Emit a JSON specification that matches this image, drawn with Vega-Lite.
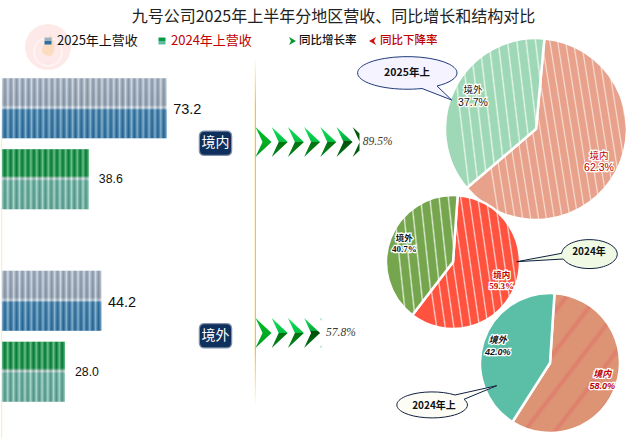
{"$schema":"https://vega.github.io/schema/vega-lite/v6.json","width":640,"height":438,"padding":0,"background":"#ffffff","autosize":{"type":"fit","contains":"padding"},"config":{"view":{"stroke":null},"font":"Noto Sans CJK SC"},
"datasets":{
"logo":[{"part":"logo"}],
"lines":[{"line":"axis"}],
"revenue":[{"region":"境内","period":"2025年上","series":"境内2025","revenue":73.2},{"region":"境内","period":"2024年上","series":"境内2024","revenue":38.6},{"region":"境外","period":"2025年上","series":"境外2025","revenue":44.2},{"region":"境外","period":"2024年上","series":"境外2024","revenue":28.0}],
"growth":[{"region":"境内","rate":0.895},{"region":"境外","rate":0.578}],
"chevrons":[{"region":"境内","n":1},{"region":"境内","n":2},{"region":"境内","n":3},{"region":"境内","n":4},{"region":"境内","n":5},{"region":"境内","n":6},{"region":"境内","n":7},{"region":"境外","n":1},{"region":"境外","n":2},{"region":"境外","n":3},{"region":"境外","n":4},{"region":"境外","n":5}],
"shares":[{"pie":"2025年上","region":"境内","share":0.623},{"pie":"2025年上","region":"境外","share":0.377},{"pie":"2024年","region":"境内","share":0.593},{"pie":"2024年","region":"境外","share":0.407},{"pie":"2024年上","region":"境内","share":0.58},{"pie":"2024年上","region":"境外","share":0.42}],
"pies":[{"pie":"2025年上"},{"pie":"2024年"},{"pie":"2024年上"}],
"legend":[{"item":"2025年上营收"},{"item":"2024年上营收"},{"item":"同比增长率"},{"item":"同比下降率"}],
"heading":[{"title":"九号公司2025年上半年分地区营收、同比增长和结构对比"}]
},
"resolve":{"scale":{"x":"independent","y":"independent","yOffset":"independent","theta":"independent","color":"independent","fill":"independent","shape":"independent"}},
"layer":[
{"data":{"name":"logo"},"encoding":{"x":{"field":"part","type":"nominal","axis":null,"scale":{"type":"point","domain":["logo"],"range":[48,48]}},"y":{"field":"part","type":"nominal","axis":null,"scale":{"type":"point","domain":["logo"],"range":[47,47]}}},"layer":[
{"mark":{"type":"point","shape":"circle","size":2124,"filled":true,"fill":"#fdeae8","strokeWidth":0,"opacity":1}},
{"mark":{"type":"point","shape":"M-14,5 A14,14 0 1 0 14,5 A14,14 0 1 0 -14,5 Z","size":4,"filled":false,"stroke":"#ffffff","strokeWidth":1,"opacity":1}},
{"mark":{"type":"point","shape":"M3,-12 Q10,2 3,9 Q-7,9 -6,2 Q-3,-6 3,-12 Z","size":4,"filled":true,"fill":"#fbdcc0","strokeWidth":0,"opacity":1}}
]},
{"data":{"name":"lines"},"mark":{"type":"rect","fill":{"gradient":"linear","x1":0,"y1":0,"x2":0,"y2":1,"stops":[{"offset":0,"color":"#ffffff"},{"offset":0.13,"color":"#ffffff"},{"offset":0.24,"color":"#ffc21a"},{"offset":0.8,"color":"#ffc21a"},{"offset":0.93,"color":"#ffffff"},{"offset":1,"color":"#ffffff"}]}},"encoding":{"x":{"field":"line","type":"nominal","axis":null,"scale":{"type":"band","domain":["axis"],"range":[254.8,256],"paddingInner":0,"paddingOuter":0}}}},
{"data":{"name":"lines"},"mark":{"type":"rect","fill":{"gradient":"linear","x1":0,"y1":0,"x2":0,"y2":1,"stops":[{"offset":0,"color":"#ffffff"},{"offset":0.16,"color":"#ffffff"},{"offset":0.3,"color":"#ffeeb0"},{"offset":1,"color":"#ffeeb0"}]}},"encoding":{"x":{"field":"line","type":"nominal","axis":null,"scale":{"type":"band","domain":["axis"],"range":[1,2.2],"paddingInner":0,"paddingOuter":0}}}},
{"data":{"name":"revenue"},"encoding":{"y":{"field":"region","type":"nominal","axis":null,"scale":{"type":"band","domain":["境内","境外"],"range":[78.3,401.7],"paddingInner":0.3195,"paddingOuter":0}},"yOffset":{"field":"period","type":"nominal","scale":{"domain":["2025年上","2024年上"],"paddingInner":0.154,"paddingOuter":0}},"x":{"field":"revenue","type":"quantitative","axis":null,"stack":null,"scale":{"domain":[0,100],"range":[2,227]}}},"layer":[
{"transform":[{"filter":"datum.period==='2025年上'"}],"mark":{"type":"bar","fill":{"gradient":"linear","x1":0,"y1":0,"x2":0,"y2":1,"stops":[{"offset":0,"color":"#b9c4cf"},{"offset":0.44,"color":"#aab5c0"},{"offset":0.49,"color":"#e6edf1"},{"offset":0.53,"color":"#3f86b3"},{"offset":1,"color":"#2e79aa"}]}}},
{"transform":[{"filter":"datum.period==='2024年上'"}],"mark":{"type":"bar","fill":{"gradient":"linear","x1":0,"y1":0,"x2":0,"y2":1,"stops":[{"offset":0,"color":"#0a9a35"},{"offset":0.44,"color":"#0a9a35"},{"offset":0.49,"color":"#dce8e0"},{"offset":0.53,"color":"#72c2a6"},{"offset":1,"color":"#6dbb9f"}]}}},
{"transform":[{"filter":"datum.series==='境内2025'"}],"mark":{"type":"bar","fill":{"gradient":"linear","x1":0,"y1":0,"x2":1,"y2":0,"stops":[{"offset":0,"color":"#ffffff66"},{"offset":0.018,"color":"#00204a40"},{"offset":0.036,"color":"#ffffff66"},{"offset":0.054,"color":"#00204a40"},{"offset":0.071,"color":"#ffffff66"},{"offset":0.089,"color":"#00204a40"},{"offset":0.107,"color":"#ffffff66"},{"offset":0.125,"color":"#00204a40"},{"offset":0.143,"color":"#ffffff66"},{"offset":0.161,"color":"#00204a40"},{"offset":0.179,"color":"#ffffff66"},{"offset":0.196,"color":"#00204a40"},{"offset":0.214,"color":"#ffffff66"},{"offset":0.232,"color":"#00204a40"},{"offset":0.25,"color":"#ffffff66"},{"offset":0.268,"color":"#00204a40"},{"offset":0.286,"color":"#ffffff66"},{"offset":0.304,"color":"#00204a40"},{"offset":0.321,"color":"#ffffff66"},{"offset":0.339,"color":"#00204a40"},{"offset":0.357,"color":"#ffffff66"},{"offset":0.375,"color":"#00204a40"},{"offset":0.393,"color":"#ffffff66"},{"offset":0.411,"color":"#00204a40"},{"offset":0.429,"color":"#ffffff66"},{"offset":0.446,"color":"#00204a40"},{"offset":0.464,"color":"#ffffff66"},{"offset":0.482,"color":"#00204a40"},{"offset":0.5,"color":"#ffffff66"},{"offset":0.518,"color":"#00204a40"},{"offset":0.536,"color":"#ffffff66"},{"offset":0.554,"color":"#00204a40"},{"offset":0.571,"color":"#ffffff66"},{"offset":0.589,"color":"#00204a40"},{"offset":0.607,"color":"#ffffff66"},{"offset":0.625,"color":"#00204a40"},{"offset":0.643,"color":"#ffffff66"},{"offset":0.661,"color":"#00204a40"},{"offset":0.679,"color":"#ffffff66"},{"offset":0.696,"color":"#00204a40"},{"offset":0.714,"color":"#ffffff66"},{"offset":0.732,"color":"#00204a40"},{"offset":0.75,"color":"#ffffff66"},{"offset":0.768,"color":"#00204a40"},{"offset":0.786,"color":"#ffffff66"},{"offset":0.804,"color":"#00204a40"},{"offset":0.821,"color":"#ffffff66"},{"offset":0.839,"color":"#00204a40"},{"offset":0.857,"color":"#ffffff66"},{"offset":0.875,"color":"#00204a40"},{"offset":0.893,"color":"#ffffff66"},{"offset":0.911,"color":"#00204a40"},{"offset":0.929,"color":"#ffffff66"},{"offset":0.946,"color":"#00204a40"},{"offset":0.964,"color":"#ffffff66"},{"offset":0.982,"color":"#00204a40"},{"offset":1,"color":"#ffffff66"}]}}},
{"transform":[{"filter":"datum.series==='境内2024'"}],"mark":{"type":"bar","fill":{"gradient":"linear","x1":0,"y1":0,"x2":1,"y2":0,"stops":[{"offset":0,"color":"#ffffff66"},{"offset":0.033,"color":"#00204a40"},{"offset":0.067,"color":"#ffffff66"},{"offset":0.1,"color":"#00204a40"},{"offset":0.133,"color":"#ffffff66"},{"offset":0.167,"color":"#00204a40"},{"offset":0.2,"color":"#ffffff66"},{"offset":0.233,"color":"#00204a40"},{"offset":0.267,"color":"#ffffff66"},{"offset":0.3,"color":"#00204a40"},{"offset":0.333,"color":"#ffffff66"},{"offset":0.367,"color":"#00204a40"},{"offset":0.4,"color":"#ffffff66"},{"offset":0.433,"color":"#00204a40"},{"offset":0.467,"color":"#ffffff66"},{"offset":0.5,"color":"#00204a40"},{"offset":0.533,"color":"#ffffff66"},{"offset":0.567,"color":"#00204a40"},{"offset":0.6,"color":"#ffffff66"},{"offset":0.633,"color":"#00204a40"},{"offset":0.667,"color":"#ffffff66"},{"offset":0.7,"color":"#00204a40"},{"offset":0.733,"color":"#ffffff66"},{"offset":0.767,"color":"#00204a40"},{"offset":0.8,"color":"#ffffff66"},{"offset":0.833,"color":"#00204a40"},{"offset":0.867,"color":"#ffffff66"},{"offset":0.9,"color":"#00204a40"},{"offset":0.933,"color":"#ffffff66"},{"offset":0.967,"color":"#00204a40"},{"offset":1,"color":"#ffffff66"}]}}},
{"transform":[{"filter":"datum.series==='境外2025'"}],"mark":{"type":"bar","fill":{"gradient":"linear","x1":0,"y1":0,"x2":1,"y2":0,"stops":[{"offset":0,"color":"#ffffff66"},{"offset":0.029,"color":"#00204a40"},{"offset":0.059,"color":"#ffffff66"},{"offset":0.088,"color":"#00204a40"},{"offset":0.118,"color":"#ffffff66"},{"offset":0.147,"color":"#00204a40"},{"offset":0.176,"color":"#ffffff66"},{"offset":0.206,"color":"#00204a40"},{"offset":0.235,"color":"#ffffff66"},{"offset":0.265,"color":"#00204a40"},{"offset":0.294,"color":"#ffffff66"},{"offset":0.324,"color":"#00204a40"},{"offset":0.353,"color":"#ffffff66"},{"offset":0.382,"color":"#00204a40"},{"offset":0.412,"color":"#ffffff66"},{"offset":0.441,"color":"#00204a40"},{"offset":0.471,"color":"#ffffff66"},{"offset":0.5,"color":"#00204a40"},{"offset":0.529,"color":"#ffffff66"},{"offset":0.559,"color":"#00204a40"},{"offset":0.588,"color":"#ffffff66"},{"offset":0.618,"color":"#00204a40"},{"offset":0.647,"color":"#ffffff66"},{"offset":0.676,"color":"#00204a40"},{"offset":0.706,"color":"#ffffff66"},{"offset":0.735,"color":"#00204a40"},{"offset":0.765,"color":"#ffffff66"},{"offset":0.794,"color":"#00204a40"},{"offset":0.824,"color":"#ffffff66"},{"offset":0.853,"color":"#00204a40"},{"offset":0.882,"color":"#ffffff66"},{"offset":0.912,"color":"#00204a40"},{"offset":0.941,"color":"#ffffff66"},{"offset":0.971,"color":"#00204a40"},{"offset":1,"color":"#ffffff66"}]}}},
{"transform":[{"filter":"datum.series==='境外2024'"}],"mark":{"type":"bar","fill":{"gradient":"linear","x1":0,"y1":0,"x2":1,"y2":0,"stops":[{"offset":0,"color":"#ffffff66"},{"offset":0.045,"color":"#00204a40"},{"offset":0.091,"color":"#ffffff66"},{"offset":0.136,"color":"#00204a40"},{"offset":0.182,"color":"#ffffff66"},{"offset":0.227,"color":"#00204a40"},{"offset":0.273,"color":"#ffffff66"},{"offset":0.318,"color":"#00204a40"},{"offset":0.364,"color":"#ffffff66"},{"offset":0.409,"color":"#00204a40"},{"offset":0.455,"color":"#ffffff66"},{"offset":0.5,"color":"#00204a40"},{"offset":0.545,"color":"#ffffff66"},{"offset":0.591,"color":"#00204a40"},{"offset":0.636,"color":"#ffffff66"},{"offset":0.682,"color":"#00204a40"},{"offset":0.727,"color":"#ffffff66"},{"offset":0.773,"color":"#00204a40"},{"offset":0.818,"color":"#ffffff66"},{"offset":0.864,"color":"#00204a40"},{"offset":0.909,"color":"#ffffff66"},{"offset":0.955,"color":"#00204a40"},{"offset":1,"color":"#ffffff66"}]}}},
{"transform":[{"filter":"datum.period==='2025年上'"}],"mark":{"type":"text","align":"left","baseline":"middle","dx":6.5,"dy":2,"font":"Liberation Sans","fontSize":14.5,"fill":"#111111"},"encoding":{"text":{"field":"revenue","type":"quantitative","format":".1f"}}},
{"transform":[{"filter":"datum.period==='2024年上'"}],"mark":{"type":"text","align":"left","baseline":"middle","dx":10,"dy":0,"font":"Liberation Sans","fontSize":12.3,"fill":"#111111"},"encoding":{"text":{"field":"revenue","type":"quantitative","format":".1f"}}}
]},
{"data":{"name":"chevrons"},"encoding":{"x":{"field":"n","type":"quantitative","axis":null,"scale":{"domain":[1,7],"range":[263.5,360.7]}},"y":{"field":"region","type":"nominal","axis":null,"scale":{"type":"point","domain":["境内","境外"],"range":[142,333],"padding":0}}},"layer":[
{"transform":[{"filter":"datum.n===1"}],"mark":{"type":"point","shape":"M-8,-15 L8,0 L-8,15 L-1,0 Z","size":4,"filled":true,"strokeWidth":0,"opacity":1,"fill":{"gradient":"linear","x1":0,"y1":0,"x2":0,"y2":1,"stops":[{"offset":0,"color":"#00c02a"},{"offset":1,"color":"#009a1c"}]}}},
{"transform":[{"filter":"(datum.region==='境内'&&datum.n>1&&datum.n<6)||(datum.region==='境外'&&datum.n>1&&datum.n<4)"}],"mark":{"type":"point","shape":"M-8,-15 L8,0 L-8,15 L-1,0 Z","size":4,"filled":true,"strokeWidth":0,"opacity":1,"fill":{"gradient":"linear","x1":0,"y1":0,"x2":0,"y2":1,"stops":[{"offset":0,"color":"#18e060"},{"offset":0.5,"color":"#00c040"},{"offset":0.5,"color":"#04700f"},{"offset":1,"color":"#00861c"}]}}},
{"transform":[{"filter":"(datum.region==='境内'&&datum.n===6)||(datum.region==='境外'&&datum.n===4)"}],"mark":{"type":"point","shape":"M-8,-15 L8,0 L-8,15 L-1,0 Z","size":4,"filled":true,"strokeWidth":0,"opacity":1,"fill":{"gradient":"linear","x1":0,"y1":0,"x2":0,"y2":1,"stops":[{"offset":0,"color":"#18e060"},{"offset":0.45,"color":"#00a838"},{"offset":0.45,"color":"#004d08"},{"offset":1,"color":"#00761a"}]}}},
{"transform":[{"filter":"datum.region==='境内'&&datum.n===7"}],"mark":{"type":"point","shape":"M-8,-15 L-1.2,-8.6 L-1.2,8.6 L-8,15 L-1,0 Z","size":4,"filled":true,"strokeWidth":0,"opacity":1,"fill":"#005a0c"}},
{"transform":[{"filter":"datum.region==='境外'&&datum.n===5"}],"mark":{"type":"point","shape":"M-8,-15 L-7,-14 L-7,-12 Z M-8,15 L-7,14 L-7,12 Z","size":4,"filled":true,"strokeWidth":0,"opacity":1,"fill":"#00a838"}}
]},
{"data":{"name":"growth"},"mark":{"type":"text","align":"left","baseline":"middle","dx":3,"font":"Liberation Sans Narrow","fontStyle":"italic","fontSize":11.5,"fill":"#3a3a2a"},"encoding":{"x":{"field":"rate","type":"quantitative","axis":null,"scale":{"domain":[0,1],"range":[256,372]}},"y":{"field":"region","type":"nominal","axis":null,"scale":{"type":"point","domain":["境内","境外"],"range":[142,333],"padding":0}},"text":{"field":"rate","type":"quantitative","format":".1%"}}},
{"data":{"name":"growth"},"encoding":{"x":{"field":"region","type":"nominal","axis":null,"scale":{"type":"point","domain":["境内","境外"],"range":[215.5,215.5],"padding":0}},"y":{"field":"region","type":"nominal","axis":null,"scale":{"type":"point","domain":["境内","境外"],"range":[143.3,335.7],"padding":0}}},"layer":[
{"mark":{"type":"point","shape":"M-11,-11.5 H11 Q15.5,-11.5 15.5,-7 V7 Q15.5,11.5 11,11.5 H-11 Q-15.5,11.5 -15.5,7 V-7 Q-15.5,-11.5 -11,-11.5 Z","size":4,"filled":true,"fill":"#0f2f5c","stroke":"#0f2f5c88","strokeWidth":2.5,"opacity":1}},
{"mark":{"type":"text","align":"center","baseline":"middle","fontSize":14,"fill":"#ffffff"},"encoding":{"text":{"field":"region","type":"nominal"}}}
]},
{"encoding":{"x":{"field":"pie","type":"nominal","axis":null,"scale":{"type":"point","domain":["2025年上"],"range":[536,536]}},"y":{"field":"pie","type":"nominal","axis":null,"scale":{"type":"point","domain":["2025年上"],"range":[129,129]}}},"layer":[
{"data":{"name":"shares"},"transform":[{"filter":"datum.pie==='2025年上'"},{"stack":"share","groupby":["pie"],"sort":[{"field":"share","order":"descending"}],"as":["s0","s1"]}],"layer":[
{"transform":[{"filter":"datum.region==='境内'"}],"encoding":{"theta":{"field":"s0","type":"quantitative","scale":{"domain":[0,1],"range":[0.0925,6.3757]}},"theta2":{"field":"s1"}},"mark":{"type":"arc","outerRadius":91,"stroke":"#ffffff","strokeWidth":2.5,"fill":{"gradient":"linear","x1":0,"y1":0.1,"x2":1,"y2":-0.08,"stops":[{"offset":0,"color":"#e8a28c"},{"offset":0.033,"color":"#e8a28c"},{"offset":0.04,"color":"#f9dcd3"},{"offset":0.048,"color":"#e8a28c"},{"offset":0.081,"color":"#e8a28c"},{"offset":0.088,"color":"#f9dcd3"},{"offset":0.095,"color":"#e8a28c"},{"offset":0.129,"color":"#e8a28c"},{"offset":0.136,"color":"#f9dcd3"},{"offset":0.143,"color":"#e8a28c"},{"offset":0.176,"color":"#e8a28c"},{"offset":0.183,"color":"#f9dcd3"},{"offset":0.19,"color":"#e8a28c"},{"offset":0.224,"color":"#e8a28c"},{"offset":0.231,"color":"#f9dcd3"},{"offset":0.238,"color":"#e8a28c"},{"offset":0.271,"color":"#e8a28c"},{"offset":0.279,"color":"#f9dcd3"},{"offset":0.286,"color":"#e8a28c"},{"offset":0.319,"color":"#e8a28c"},{"offset":0.326,"color":"#f9dcd3"},{"offset":0.333,"color":"#e8a28c"},{"offset":0.367,"color":"#e8a28c"},{"offset":0.374,"color":"#f9dcd3"},{"offset":0.381,"color":"#e8a28c"},{"offset":0.414,"color":"#e8a28c"},{"offset":0.421,"color":"#f9dcd3"},{"offset":0.429,"color":"#e8a28c"},{"offset":0.462,"color":"#e8a28c"},{"offset":0.469,"color":"#f9dcd3"},{"offset":0.476,"color":"#e8a28c"},{"offset":0.51,"color":"#e8a28c"},{"offset":0.517,"color":"#f9dcd3"},{"offset":0.524,"color":"#e8a28c"},{"offset":0.557,"color":"#e8a28c"},{"offset":0.564,"color":"#f9dcd3"},{"offset":0.571,"color":"#e8a28c"},{"offset":0.605,"color":"#e8a28c"},{"offset":0.612,"color":"#f9dcd3"},{"offset":0.619,"color":"#e8a28c"},{"offset":0.652,"color":"#e8a28c"},{"offset":0.659,"color":"#f9dcd3"},{"offset":0.667,"color":"#e8a28c"},{"offset":0.7,"color":"#e8a28c"},{"offset":0.707,"color":"#f9dcd3"},{"offset":0.714,"color":"#e8a28c"},{"offset":0.748,"color":"#e8a28c"},{"offset":0.755,"color":"#f9dcd3"},{"offset":0.762,"color":"#e8a28c"},{"offset":0.795,"color":"#e8a28c"},{"offset":0.802,"color":"#f9dcd3"},{"offset":0.81,"color":"#e8a28c"},{"offset":0.843,"color":"#e8a28c"},{"offset":0.85,"color":"#f9dcd3"},{"offset":0.857,"color":"#e8a28c"},{"offset":0.89,"color":"#e8a28c"},{"offset":0.898,"color":"#f9dcd3"},{"offset":0.905,"color":"#e8a28c"},{"offset":0.938,"color":"#e8a28c"},{"offset":0.945,"color":"#f9dcd3"},{"offset":0.952,"color":"#e8a28c"},{"offset":0.986,"color":"#e8a28c"},{"offset":0.993,"color":"#f9dcd3"},{"offset":1,"color":"#e8a28c"}]}}},
{"transform":[{"filter":"datum.region==='境外'"}],"encoding":{"theta":{"field":"s0","type":"quantitative","scale":{"domain":[0,1],"range":[0.0925,6.3757]}},"theta2":{"field":"s1"}},"mark":{"type":"arc","outerRadius":91,"stroke":"#ffffff","strokeWidth":2.5,"fill":{"gradient":"linear","x1":0,"y1":0.1,"x2":1,"y2":-0.08,"stops":[{"offset":0,"color":"#9fd8b6"},{"offset":0.064,"color":"#9fd8b6"},{"offset":0.077,"color":"#e2f5e9"},{"offset":0.091,"color":"#9fd8b6"},{"offset":0.155,"color":"#9fd8b6"},{"offset":0.168,"color":"#e2f5e9"},{"offset":0.182,"color":"#9fd8b6"},{"offset":0.245,"color":"#9fd8b6"},{"offset":0.259,"color":"#e2f5e9"},{"offset":0.273,"color":"#9fd8b6"},{"offset":0.336,"color":"#9fd8b6"},{"offset":0.35,"color":"#e2f5e9"},{"offset":0.364,"color":"#9fd8b6"},{"offset":0.427,"color":"#9fd8b6"},{"offset":0.441,"color":"#e2f5e9"},{"offset":0.455,"color":"#9fd8b6"},{"offset":0.518,"color":"#9fd8b6"},{"offset":0.532,"color":"#e2f5e9"},{"offset":0.545,"color":"#9fd8b6"},{"offset":0.609,"color":"#9fd8b6"},{"offset":0.623,"color":"#e2f5e9"},{"offset":0.636,"color":"#9fd8b6"},{"offset":0.7,"color":"#9fd8b6"},{"offset":0.714,"color":"#e2f5e9"},{"offset":0.727,"color":"#9fd8b6"},{"offset":0.791,"color":"#9fd8b6"},{"offset":0.805,"color":"#e2f5e9"},{"offset":0.818,"color":"#9fd8b6"},{"offset":0.882,"color":"#9fd8b6"},{"offset":0.896,"color":"#e2f5e9"},{"offset":0.909,"color":"#9fd8b6"},{"offset":0.973,"color":"#9fd8b6"},{"offset":0.986,"color":"#e2f5e9"},{"offset":1,"color":"#9fd8b6"}]}}},
{"encoding":{"theta":{"field":"share","type":"quantitative","stack":true,"scale":{"domain":[0,1],"range":[0.0925,6.3757]}},"order":{"field":"share","sort":"descending"}},"layer":[
{"mark":{"type":"text","radius":71,"dy":-6,"fontSize":9.5,"fill":"#ffffff","stroke":"#ffffff","strokeWidth":2.5,"align":"center","baseline":"middle"},"encoding":{"text":{"field":"region","type":"nominal"}}},
{"mark":{"type":"text","radius":71,"dy":6.5,"fontSize":10.5,"fill":"#ffffff","stroke":"#ffffff","strokeWidth":2.5,"align":"center","baseline":"middle","font":"Liberation Sans"},"encoding":{"text":{"field":"share","type":"quantitative","format":".1%"}}},
{"mark":{"type":"text","radius":71,"dy":-6,"fontSize":9.5,"align":"center","baseline":"middle"},"encoding":{"text":{"field":"region","type":"nominal"},"fill":{"field":"region","type":"nominal","legend":null,"scale":{"domain":["境内","境外"],"range":["#c00000","#111111"]}}}},
{"mark":{"type":"text","radius":71,"dy":6.5,"fontSize":10.5,"align":"center","baseline":"middle","font":"Liberation Sans"},"encoding":{"text":{"field":"share","type":"quantitative","format":".1%"},"fill":{"field":"region","type":"nominal","legend":null,"scale":{"domain":["境内","境外"],"range":["#c00000","#111111"]}}}}
]}
]},
{"data":{"name":"pies"},"transform":[{"filter":"datum.pie==='2025年上'"}],"layer":[
{"mark":{"type":"point","shape":"M-99,-43 A49.7,16.3 0 1 0 -114,-40.5 L-84.3,-29 Z","size":4,"filled":true,"fill":"#f5f3ff","stroke":"#1f3a7a","strokeWidth":1,"opacity":1}},
{"mark":{"type":"text","dx":-129,"dy":-56,"fontSize":10.5,"fontWeight":"bold","fill":"#111111","align":"center","baseline":"middle"},"encoding":{"text":{"field":"pie","type":"nominal"}}}
]}
]},
{"encoding":{"x":{"field":"pie","type":"nominal","axis":null,"scale":{"type":"point","domain":["2024年"],"range":[453,453]}},"y":{"field":"pie","type":"nominal","axis":null,"scale":{"type":"point","domain":["2024年"],"range":[262,262]}}},"layer":[
{"data":{"name":"shares"},"transform":[{"filter":"datum.pie==='2024年'"},{"stack":"share","groupby":["pie"],"sort":[{"field":"share","order":"descending"}],"as":["s0","s1"]}],"layer":[
{"transform":[{"filter":"datum.region==='境内'"}],"encoding":{"theta":{"field":"s0","type":"quantitative","scale":{"domain":[0,1],"range":[0.0698,6.353]}},"theta2":{"field":"s1"}},"mark":{"type":"arc","outerRadius":67,"stroke":"#ffffff","strokeWidth":2.5,"fill":{"gradient":"linear","x1":0,"y1":0.1,"x2":1,"y2":-0.08,"stops":[{"offset":0,"color":"#ff5340"},{"offset":0.054,"color":"#ff5340"},{"offset":0.065,"color":"#ffd0c8"},{"offset":0.077,"color":"#ff5340"},{"offset":0.131,"color":"#ff5340"},{"offset":0.142,"color":"#ffd0c8"},{"offset":0.154,"color":"#ff5340"},{"offset":0.208,"color":"#ff5340"},{"offset":0.219,"color":"#ffd0c8"},{"offset":0.231,"color":"#ff5340"},{"offset":0.285,"color":"#ff5340"},{"offset":0.296,"color":"#ffd0c8"},{"offset":0.308,"color":"#ff5340"},{"offset":0.362,"color":"#ff5340"},{"offset":0.373,"color":"#ffd0c8"},{"offset":0.385,"color":"#ff5340"},{"offset":0.439,"color":"#ff5340"},{"offset":0.45,"color":"#ffd0c8"},{"offset":0.462,"color":"#ff5340"},{"offset":0.516,"color":"#ff5340"},{"offset":0.527,"color":"#ffd0c8"},{"offset":0.538,"color":"#ff5340"},{"offset":0.592,"color":"#ff5340"},{"offset":0.603,"color":"#ffd0c8"},{"offset":0.615,"color":"#ff5340"},{"offset":0.669,"color":"#ff5340"},{"offset":0.68,"color":"#ffd0c8"},{"offset":0.692,"color":"#ff5340"},{"offset":0.746,"color":"#ff5340"},{"offset":0.757,"color":"#ffd0c8"},{"offset":0.769,"color":"#ff5340"},{"offset":0.823,"color":"#ff5340"},{"offset":0.834,"color":"#ffd0c8"},{"offset":0.846,"color":"#ff5340"},{"offset":0.9,"color":"#ff5340"},{"offset":0.911,"color":"#ffd0c8"},{"offset":0.923,"color":"#ff5340"},{"offset":0.977,"color":"#ff5340"},{"offset":0.988,"color":"#ffd0c8"},{"offset":1,"color":"#ff5340"}]}}},
{"transform":[{"filter":"datum.region==='境外'"}],"encoding":{"theta":{"field":"s0","type":"quantitative","scale":{"domain":[0,1],"range":[0.0698,6.353]}},"theta2":{"field":"s1"}},"mark":{"type":"arc","outerRadius":67,"stroke":"#ffffff","strokeWidth":2.5,"fill":{"gradient":"linear","x1":0,"y1":0.1,"x2":1,"y2":-0.08,"stops":[{"offset":0,"color":"#75a64e"},{"offset":0.088,"color":"#75a64e"},{"offset":0.106,"color":"#dfe9d4"},{"offset":0.125,"color":"#75a64e"},{"offset":0.213,"color":"#75a64e"},{"offset":0.231,"color":"#dfe9d4"},{"offset":0.25,"color":"#75a64e"},{"offset":0.338,"color":"#75a64e"},{"offset":0.356,"color":"#dfe9d4"},{"offset":0.375,"color":"#75a64e"},{"offset":0.463,"color":"#75a64e"},{"offset":0.481,"color":"#dfe9d4"},{"offset":0.5,"color":"#75a64e"},{"offset":0.588,"color":"#75a64e"},{"offset":0.606,"color":"#dfe9d4"},{"offset":0.625,"color":"#75a64e"},{"offset":0.713,"color":"#75a64e"},{"offset":0.731,"color":"#dfe9d4"},{"offset":0.75,"color":"#75a64e"},{"offset":0.838,"color":"#75a64e"},{"offset":0.856,"color":"#dfe9d4"},{"offset":0.875,"color":"#75a64e"},{"offset":0.963,"color":"#75a64e"},{"offset":0.981,"color":"#dfe9d4"},{"offset":1,"color":"#75a64e"}]}}},
{"encoding":{"theta":{"field":"share","type":"quantitative","stack":true,"scale":{"domain":[0,1],"range":[0.0698,6.353]}},"order":{"field":"share","sort":"descending"}},"layer":[
{"mark":{"type":"text","radius":52,"dy":-5.5,"fontSize":8.5,"fontWeight":"bold","fill":"#ffffff","stroke":"#ffffff","strokeWidth":2.5,"align":"center","baseline":"middle"},"encoding":{"text":{"field":"region","type":"nominal"}}},
{"mark":{"type":"text","radius":52,"dy":5.5,"fontSize":9,"fill":"#ffffff","stroke":"#ffffff","strokeWidth":2.5,"align":"center","baseline":"middle","font":"Liberation Sans Narrow","fontWeight":"bold"},"encoding":{"text":{"field":"share","type":"quantitative","format":".1%"}}},
{"mark":{"type":"text","radius":52,"dy":-5.5,"fontSize":8.5,"fontWeight":"bold","align":"center","baseline":"middle"},"encoding":{"text":{"field":"region","type":"nominal"},"fill":{"field":"region","type":"nominal","legend":null,"scale":{"domain":["境内","境外"],"range":["#c00000","#111111"]}}}},
{"mark":{"type":"text","radius":52,"dy":5.5,"fontSize":9,"align":"center","baseline":"middle","font":"Liberation Sans Narrow","fontWeight":"bold"},"encoding":{"text":{"field":"share","type":"quantitative","format":".1%"},"fill":{"field":"region","type":"nominal","legend":null,"scale":{"domain":["境内","境外"],"range":["#c00000","#111111"]}}}}
]}
]},
{"data":{"name":"pies"},"transform":[{"filter":"datum.pie==='2024年'"}],"layer":[
{"mark":{"type":"point","shape":"M108.7,-8.7 A27.8,14.5 0 1 1 110.3,-3 L63.7,-0.3 Z","size":4,"filled":true,"fill":"#eff9e4","stroke":"#102040","strokeWidth":1,"opacity":1}},
{"mark":{"type":"text","dx":136,"dy":-10,"fontSize":10,"fontWeight":"bold","fill":"#111111","align":"center","baseline":"middle"},"encoding":{"text":{"field":"pie","type":"nominal"}}}
]}
]},
{"encoding":{"x":{"field":"pie","type":"nominal","axis":null,"scale":{"type":"point","domain":["2024年上"],"range":[550,550]}},"y":{"field":"pie","type":"nominal","axis":null,"scale":{"type":"point","domain":["2024年上"],"range":[363,363]}}},"layer":[
{"data":{"name":"shares"},"transform":[{"filter":"datum.pie==='2024年上'"},{"stack":"share","groupby":["pie"],"sort":[{"field":"share","order":"descending"}],"as":["s0","s1"]}],"layer":[
{"transform":[{"filter":"datum.region==='境内'"}],"encoding":{"theta":{"field":"s0","type":"quantitative","scale":{"domain":[0,1],"range":[0.0646,6.3478]}},"theta2":{"field":"s1"}},"mark":{"type":"arc","outerRadius":70,"stroke":"#ffffff","strokeWidth":2.5,"fill":{"gradient":"linear","x1":0,"y1":0,"x2":1,"y2":1,"stops":[{"offset":0,"color":"#dd9474"},{"offset":0.1,"color":"#dd9474"},{"offset":0.12,"color":"#df7d6c"},{"offset":0.143,"color":"#dd9474"},{"offset":0.243,"color":"#dd9474"},{"offset":0.263,"color":"#df7d6c"},{"offset":0.286,"color":"#dd9474"},{"offset":0.386,"color":"#dd9474"},{"offset":0.406,"color":"#df7d6c"},{"offset":0.429,"color":"#dd9474"},{"offset":0.529,"color":"#dd9474"},{"offset":0.549,"color":"#df7d6c"},{"offset":0.571,"color":"#dd9474"},{"offset":0.671,"color":"#dd9474"},{"offset":0.691,"color":"#df7d6c"},{"offset":0.714,"color":"#dd9474"},{"offset":0.814,"color":"#dd9474"},{"offset":0.834,"color":"#df7d6c"},{"offset":0.857,"color":"#dd9474"},{"offset":0.957,"color":"#dd9474"},{"offset":0.977,"color":"#df7d6c"},{"offset":1,"color":"#dd9474"}]}}},
{"transform":[{"filter":"datum.region==='境外'"}],"encoding":{"theta":{"field":"s0","type":"quantitative","scale":{"domain":[0,1],"range":[0.0646,6.3478]}},"theta2":{"field":"s1"}},"mark":{"type":"arc","outerRadius":70,"stroke":"#ffffff","strokeWidth":2.5,"fill":"#5bbfa7"}},
{"encoding":{"theta":{"field":"share","type":"quantitative","stack":true,"scale":{"domain":[0,1],"range":[0.0646,6.3478]}},"order":{"field":"share","sort":"descending"}},"layer":[
{"mark":{"type":"text","radius":55,"dy":-6,"fontSize":9,"fontWeight":"bold","fontStyle":"italic","fill":"#ffffff","stroke":"#ffffff","strokeWidth":2.5,"align":"center","baseline":"middle"},"encoding":{"text":{"field":"region","type":"nominal"}}},
{"mark":{"type":"text","radius":55,"dy":6,"fontSize":9,"fontWeight":"bold","fontStyle":"italic","fill":"#ffffff","stroke":"#ffffff","strokeWidth":2.5,"align":"center","baseline":"middle","font":"Liberation Sans"},"encoding":{"text":{"field":"share","type":"quantitative","format":".1%"}}},
{"mark":{"type":"text","radius":55,"dy":-6,"fontSize":9,"fontWeight":"bold","fontStyle":"italic","align":"center","baseline":"middle"},"encoding":{"text":{"field":"region","type":"nominal"},"fill":{"field":"region","type":"nominal","legend":null,"scale":{"domain":["境内","境外"],"range":["#c00000","#111111"]}}}},
{"mark":{"type":"text","radius":55,"dy":6,"fontSize":9,"fontWeight":"bold","fontStyle":"italic","align":"center","baseline":"middle","font":"Liberation Sans"},"encoding":{"text":{"field":"share","type":"quantitative","format":".1%"},"fill":{"field":"region","type":"nominal","legend":null,"scale":{"domain":["境内","境外"],"range":["#c00000","#111111"]}}}}
]}
]},
{"data":{"name":"pies"},"transform":[{"filter":"datum.pie==='2024年上'"}],"layer":[
{"mark":{"type":"point","shape":"M-95,32 L-53.3,22.7 L-86,36.3 A35.3,13 0 1 1 -95,32 Z","size":4,"filled":true,"fill":"#fdfdf5","stroke":"#102040","strokeWidth":1,"opacity":1}},
{"mark":{"type":"text","dx":-116,"dy":43,"fontSize":10,"fontWeight":"bold","fill":"#111111","align":"center","baseline":"middle"},"encoding":{"text":{"field":"pie","type":"nominal"}}}
]}
]},
{"data":{"name":"heading"},"mark":{"type":"text","align":"center","baseline":"middle","fontSize":16,"fill":"#222222"},"encoding":{"x":{"field":"title","type":"nominal","axis":null,"scale":{"type":"point","range":[333.5,333.5]}},"y":{"field":"title","type":"nominal","axis":null,"scale":{"type":"point","range":[17,17]}},"text":{"field":"title","type":"nominal"}}},
{"data":{"name":"legend"},"transform":[{"filter":"datum.item==='2025年上营收'||datum.item==='2024年上营收'"}],"encoding":{"x":{"field":"item","type":"nominal","axis":null,"scale":{"type":"point","domain":["2025年上营收","2024年上营收"],"range":[48,162],"padding":0}},"y":{"field":"item","type":"nominal","axis":null,"scale":{"type":"point","domain":["2025年上营收","2024年上营收"],"range":[41,41],"padding":0}}},"layer":[
{"transform":[{"filter":"datum.item==='2025年上营收'"}],"mark":{"type":"point","shape":"M-3.5,-3.5 H3.5 V3.5 H-3.5 Z","size":4,"filled":true,"strokeWidth":0,"opacity":1,"fill":{"gradient":"linear","x1":0,"y1":0,"x2":0,"y2":1,"stops":[{"offset":0,"color":"#9fb0c0"},{"offset":0.48,"color":"#9fb0c0"},{"offset":0.52,"color":"#2a6f9e"},{"offset":1,"color":"#2a6f9e"}]}}},
{"transform":[{"filter":"datum.item==='2024年上营收'"}],"mark":{"type":"point","shape":"M-3.5,-3.5 H3.5 V3.5 H-3.5 Z","size":4,"filled":true,"strokeWidth":0,"opacity":1,"fill":{"gradient":"linear","x1":0,"y1":0,"x2":0,"y2":1,"stops":[{"offset":0,"color":"#0a9a45"},{"offset":0.48,"color":"#0a9a45"},{"offset":0.52,"color":"#5fbb9b"},{"offset":1,"color":"#5fbb9b"}]}}},
{"mark":{"type":"text","align":"left","baseline":"middle","dx":9,"fontSize":13},"encoding":{"text":{"field":"item","type":"nominal"},"fill":{"field":"item","type":"nominal","legend":null,"scale":{"domain":["2025年上营收","2024年上营收"],"range":["#111111","#c00000"]}}}}
]},
{"data":{"name":"legend"},"transform":[{"filter":"datum.item==='同比增长率'||datum.item==='同比下降率'"}],"encoding":{"x":{"field":"item","type":"nominal","axis":null,"scale":{"type":"point","domain":["同比增长率","同比下降率"],"range":[292,373],"padding":0}},"y":{"field":"item","type":"nominal","axis":null,"scale":{"type":"point","domain":["同比增长率","同比下降率"],"range":[41,41],"padding":0}}},"layer":[
{"mark":{"type":"point","size":4,"filled":true,"strokeWidth":0,"opacity":1},"encoding":{"shape":{"field":"item","type":"nominal","legend":null,"scale":{"domain":["同比增长率","同比下降率"],"range":["M-3,-4 L4,0 L-3,4 L-1,0 Z","M3,-4 L-4,0 L3,4 L1,0 Z"]}},"color":{"field":"item","type":"nominal","legend":null,"scale":{"domain":["同比增长率","同比下降率"],"range":["#009a2a","#d01010"]}}}},
{"mark":{"type":"text","align":"left","baseline":"middle","dx":7,"fontSize":11.5,"fontWeight":500},"encoding":{"text":{"field":"item","type":"nominal"},"fill":{"field":"item","type":"nominal","legend":null,"scale":{"domain":["同比增长率","同比下降率"],"range":["#111111","#c00000"]}}}}
]}
]}
